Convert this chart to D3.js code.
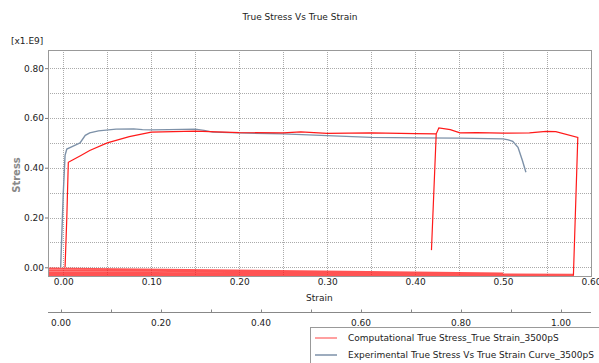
<!DOCTYPE html>
<html>
<head>
<meta charset="utf-8">
<script src="https://cdn.jsdelivr.net/npm/d3@7"></script>
<style>
  body { margin: 0; background: #fff; }
  text { font-family: "DejaVu Sans", sans-serif; }
</style>
</head>
<body>
<div id="container"></div>
<script>
/* CONSTANTS AND GLOBALS */
const width = 599,
  height = 363,
  margin = { top: 50, bottom: 276, left: 48, right: 591 };

/* DATA (stress in 1e9 units) */
const expStrain = [-0.003, 0.0, 0.002, 0.004, 0.01, 0.016, 0.019, 0.025, 0.03, 0.04, 0.06, 0.08, 0.09, 0.10, 0.12, 0.15, 0.16, 0.17, 0.20, 0.25, 0.30, 0.35, 0.40, 0.45, 0.50, 0.506, 0.511, 0.517, 0.522, 0.526];
const expStress = [0.0, 0.30, 0.45, 0.475, 0.485, 0.495, 0.50, 0.53, 0.54, 0.548, 0.555, 0.556, 0.553, 0.552, 0.553, 0.555, 0.550, 0.543, 0.540, 0.536, 0.529, 0.522, 0.520, 0.519, 0.516, 0.512, 0.506, 0.482, 0.429, 0.382];

// computational curve: first part up to the drop, second part after the jump
const compStrain1 = [0.002, 0.004, 0.0057, 0.01, 0.02, 0.03, 0.05, 0.075, 0.10, 0.15, 0.20, 0.25, 0.27, 0.30, 0.35, 0.40, 0.424, 0.4186];
const compStress1 = [0.0, 0.20, 0.422, 0.43, 0.449, 0.469, 0.50, 0.525, 0.543, 0.547, 0.541, 0.540, 0.544, 0.538, 0.540, 0.537, 0.536, 0.069];
const compStrain2 = [0.424, 0.427, 0.44, 0.451, 0.47, 0.50, 0.53, 0.549, 0.56, 0.585, 0.58];
const compStress2 = [0.536, 0.560, 0.553, 0.540, 0.541, 0.539, 0.540, 0.546, 0.545, 0.522, -0.034];
// return strokes along the bottom of the plot
const compStrain3 = [0.58, -0.03, -0.03, 0.58, -0.03, -0.03, 0.50, -0.03];
const compStress3 = [-0.034, -0.032, -0.026, -0.029, -0.020, -0.012, -0.024, -0.004];

const yTicks = [0.0, 0.2, 0.4, 0.6, 0.8];
const xTicks = [0.0, 0.1, 0.2, 0.3, 0.4, 0.5, 0.6];
const x2Ticks = [0.0, 0.2, 0.4, 0.6, 0.8, 1.0];

const seriesNames = ["Computational True Stress_True Strain_3500pS", "Experimental True Stress Vs True Strain Curve_3500pS"];
const seriesColors = ["#ff1a1a", "#7d91a8"];

const zip = (xs, ys) => xs.map((v, i) => ({ strain: v, stress: ys[i] }));

const svg = d3.select("#container")
  .append("svg")
  .attr("width", width)
  .attr("height", height);

const xScale = d3.scaleLinear()
  .domain([-0.0174, 0.6])
  .range([margin.left, margin.right]);

const yScale = d3.scaleLinear()
  .domain([-0.035, 0.873])
  .range([margin.bottom, margin.top]);

const x2Scale = d3.scaleLinear()
  .domain([-0.026, 1.06])
  .range([margin.left, margin.right]);

// grid
const grid = svg.append("g").attr("stroke", "#aaa").attr("stroke-dasharray", "1,1").attr("stroke-width", 1);
d3.range(0, 0.601, 0.05).forEach(v => {
  grid.append("line")
    .attr("x1", Math.round(xScale(v)) + 0.5).attr("x2", Math.round(xScale(v)) + 0.5)
    .attr("y1", margin.top).attr("y2", margin.bottom);
});
d3.range(0, 0.801, 0.1).forEach(v => {
  grid.append("line")
    .attr("y1", Math.round(yScale(v)) + 0.5).attr("y2", Math.round(yScale(v)) + 0.5)
    .attr("x1", margin.left).attr("x2", margin.right);
});

// clip for the curves
svg.append("clipPath").attr("id", "plotclip")
  .append("rect")
  .attr("x", margin.left).attr("y", margin.top)
  .attr("width", margin.right - margin.left).attr("height", margin.bottom - margin.top);

const lineGen = d3.line()
  .x(d => xScale(d.strain))
  .y(d => yScale(d.stress));

const plot = svg.append("g").attr("clip-path", "url(#plotclip)");

plot.append("path")
  .attr("d", lineGen(zip(compStrain3, compStress3)))
  .attr("fill", "none")
  .attr("stroke", seriesColors[0])
  .attr("stroke-opacity", 0.75)
  .attr("stroke-width", 1.6);

plot.append("path")
  .attr("d", lineGen(zip(expStrain, expStress)))
  .attr("fill", "none")
  .attr("stroke", seriesColors[1])
  .attr("stroke-width", 1.4);

plot.append("path")
  .attr("d", lineGen(zip(compStrain1, compStress1)))
  .attr("fill", "none")
  .attr("stroke", seriesColors[0])
  .attr("stroke-width", 1.2);

plot.append("path")
  .attr("d", lineGen(zip(compStrain2, compStress2)))
  .attr("fill", "none")
  .attr("stroke", seriesColors[0])
  .attr("stroke-width", 1.2);

// frame
svg.append("rect")
  .attr("x", margin.left + 0.5).attr("y", margin.top + 0.5)
  .attr("width", margin.right - margin.left).attr("height", margin.bottom - margin.top)
  .attr("fill", "none")
  .attr("stroke", "#999")
  .attr("stroke-width", 1);

// axes
const yAxis = d3.axisLeft(yScale).tickValues(yTicks).tickFormat(d3.format(".2f")).tickSize(3);
const yAxisGroup = svg.append("g")
  .attr("transform", `translate(${margin.left}, 0)`)
  .call(yAxis);
yAxisGroup.select(".domain").remove();
yAxisGroup.selectAll(".tick line").attr("stroke", "#777");
yAxisGroup.selectAll("text").attr("font-size", 9).attr("fill", "#222").attr("x", -4);

const xAxis = d3.axisBottom(xScale).tickValues(xTicks).tickFormat(d3.format(".2f")).tickSize(0);
const xAxisGroup = svg.append("g")
  .attr("transform", `translate(0, ${margin.bottom})`)
  .call(xAxis);
xAxisGroup.select(".domain").remove();
xAxisGroup.selectAll("text").attr("font-size", 9).attr("fill", "#222").attr("dy", "0.71em").attr("y", 3);

const x2Axis = d3.axisTop(x2Scale).tickValues(d3.range(0, 1.01, 0.1)).tickSize(3).tickFormat("");
const x2AxisGroup = svg.append("g")
  .attr("transform", `translate(0, 312.5)`)
  .call(x2Axis);
x2AxisGroup.select(".domain").attr("d", `M${margin.left},0H${margin.right}`).attr("stroke", "#888");
x2AxisGroup.selectAll(".tick line").attr("stroke", "#888");
x2AxisGroup.selectAll(".x2label")
  .data(x2Ticks)
  .join("text")
  .attr("class", "x2label")
  .attr("x", d => x2Scale(d))
  .attr("y", 13)
  .attr("text-anchor", "middle")
  .attr("font-size", 9)
  .attr("fill", "#222")
  .text(d3.format(".2f"));

// labels
svg.append("text")
  .attr("x", 300).attr("y", 20)
  .attr("text-anchor", "middle")
  .attr("font-size", 9)
  .attr("fill", "#222")
  .text("True Stress Vs True Strain");

svg.append("text")
  .attr("x", 11).attr("y", 44)
  .attr("font-size", 9)
  .attr("fill", "#222")
  .text("[x1.E9]");

svg.append("text")
  .attr("transform", `translate(20, ${(margin.top + margin.bottom) / 2 + 12}) rotate(-90)`)
  .attr("text-anchor", "middle")
  .attr("font-size", 10)
  .attr("font-weight", "bold")
  .attr("fill", "#888")
  .text("Stress");

svg.append("text")
  .attr("x", 306).attr("y", 301)
  .attr("font-size", 9)
  .attr("fill", "#222")
  .text("Strain");

// legend
const legend = svg.append("g");
legend.append("rect")
  .attr("x", 310.5).attr("y", 327.5)
  .attr("width", 300).attr("height", 50)
  .attr("fill", "#fff")
  .attr("stroke", "#999");

seriesNames.forEach((name, i) => {
  const yy = 338 + i * 17;
  legend.append("line")
    .attr("x1", 315).attr("x2", 337)
    .attr("y1", yy).attr("y2", yy)
    .attr("stroke", i === 0 ? "#ff8080" : seriesColors[1])
    .attr("stroke-width", 1.5);
  legend.append("text")
    .attr("x", 348).attr("y", yy + 3)
    .attr("font-size", 9)
    .attr("fill", "#222")
    .text(name);
});
</script>
</body>
</html>
